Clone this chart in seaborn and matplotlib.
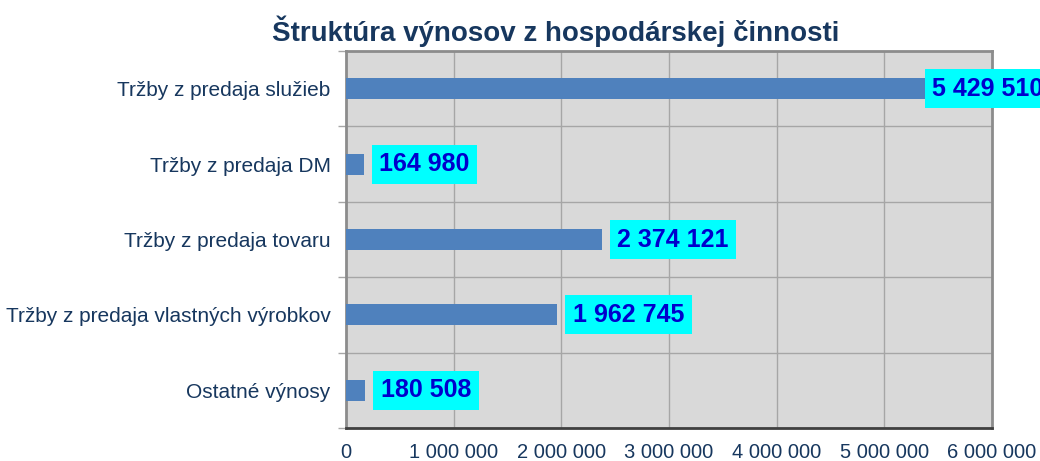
import matplotlib
matplotlib.use("Agg")
import numpy as np
import pandas as pd
import matplotlib.pyplot as plt
import seaborn as sns
from matplotlib.ticker import FixedLocator, FuncFormatter

categories = [
    "Tržby z predaja služieb",
    "Tržby z predaja DM",
    "Tržby z predaja tovaru",
    "Tržby z predaja vlastných výrobkov",
    "Ostatné výnosy",
]
values = [5429510, 164980, 2374121, 1962745, 180508]
x_ticks = [0, 1000000, 2000000, 3000000, 4000000, 5000000, 6000000]

navy = "#17375e"
bar_color = "#4f81bd"

df = pd.DataFrame({"kategoria": categories, "hodnota": values})

sns.set_style("white")
plt.rcParams["font.family"] = ["Liberation Sans", "DejaVu Sans"]

fig = plt.figure(figsize=(10.4, 4.61), dpi=100)
ax = fig.add_axes([346 / 1040, 1 - 428 / 461, (992 - 346) / 1040, (428 - 51) / 461])
ax.set_facecolor("#d9d9d9")

sns.barplot(data=df, x="hodnota", y="kategoria", orient="h", color=bar_color,
            width=0.28, saturation=1, linewidth=0, ax=ax, zorder=3)

ax.set_xlim(0, 6000000)
ax.set_ylim(len(categories) - 0.5, -0.5)
ax.set_xlabel("")
ax.set_ylabel("")

fmt = lambda v, p: f"{int(v):,}".replace(",", " ")
ax.xaxis.set_major_locator(FixedLocator(x_ticks))
ax.xaxis.set_major_formatter(FuncFormatter(fmt))
ax.yaxis.set_minor_locator(FixedLocator(np.arange(-0.5, len(categories), 1.0)))

ax.grid(True, axis="x", which="major", color="#a6a6a6", lw=1, zorder=0)
ax.grid(True, axis="y", which="minor", color="#a6a6a6", lw=1, zorder=0)
ax.set_axisbelow(True)

ax.tick_params(axis="x", which="major", length=6, width=1, color="#404040",
               labelsize=14.5, labelcolor=navy, pad=5)
ax.tick_params(axis="y", which="major", length=0, labelsize=15, labelcolor=navy, pad=11)
ax.tick_params(axis="y", which="minor", length=6, width=1, color="#a6a6a6", left=True)

for side in ["top", "right", "left"]:
    ax.spines[side].set_color("#8c8c8c")
    ax.spines[side].set_linewidth(2)
ax.spines["bottom"].set_color("#404040")
ax.spines["bottom"].set_linewidth(2)

lab_size = 18
pad = 0.3
pad_px = pad * lab_size * 100 / 72
for i, v in enumerate(values):
    off = 8 + pad_px if v < 5000000 else -6 + pad_px
    ax.annotate(fmt(v, None), xy=(v, i), xytext=(off, 0), textcoords="offset pixels",
                ha="left", va="center", fontsize=lab_size, fontweight="bold", color="#0000cc",
                bbox=dict(boxstyle=f"square,pad={pad}", fc="#00ffff", ec="none"),
                annotation_clip=False, zorder=5)

fig.text(556 / 1040, 1 - 31 / 461, "Štruktúra výnosov z hospodárskej činnosti",
         ha="center", va="center", fontsize=20, fontweight="bold", color=navy)

fig.savefig("out.png", dpi=100)
